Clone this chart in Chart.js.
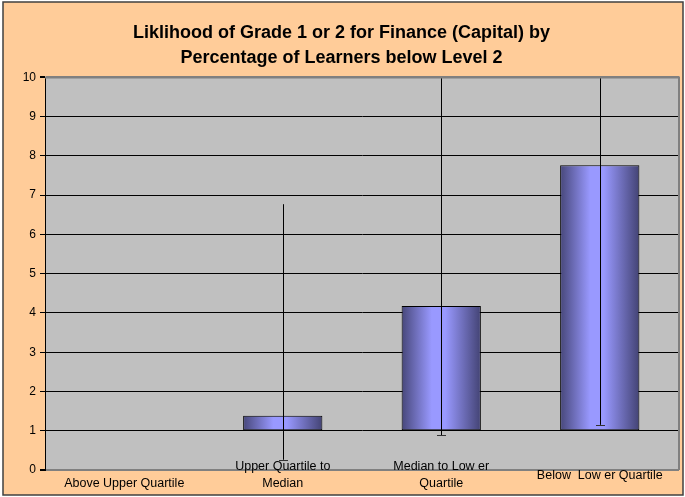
<!DOCTYPE html>
<html>
<head>
<meta charset="utf-8">
<script src="https://cdn.jsdelivr.net/npm/chart.js@4/dist/chart.umd.min.js"></script>
<style>
  html, body { margin: 0; padding: 0; background: #fff; }
  #wrap { width: 685px; height: 497px; position: relative; }
</style>
</head>
<body>
<div id="wrap"><canvas id="barChart" width="685" height="497"></canvas></div>
<script>
// values
var categories = [
    ['', 'Above Upper Quartile'],
    ['Upper Quartile to', 'Median'],
    ['Median to Low er', 'Quartile'],
    ['Below  Low er Quartile']
];
var likelihood = [1, 1.38, 4.18, 7.76];
var errLow = [null, 0.26, 0.89, 1.15];
var errHigh = [null, 6.77, 11.5, 10.8];
var yTicks = [0, 1, 2, 3, 4, 5, 6, 7, 8, 9, 10];

// the x labels sit partly over the plot, so don't clip them to the axis box
Chart.CategoryScale.prototype._computeLabelArea = function() { return undefined; };

var bgPlugin = {
    id: 'bg',
    beforeDraw: function(chart) {
        var c = chart.ctx, a = chart.chartArea;
        c.save();
        c.fillStyle = '#ffffff';
        c.fillRect(0, 0, chart.width, chart.height);
        c.fillStyle = '#FFCC99';
        c.fillRect(3, 2, 680, 493);
        c.strokeStyle = '#404040';
        c.lineWidth = 1.5;
        c.strokeRect(3, 2, 680, 493);
        c.fillStyle = '#C0C0C0';
        c.fillRect(a.left, a.top, a.right - a.left, a.bottom - a.top);
        c.restore();
    },
    afterDraw: function(chart) {
        var c = chart.ctx, a = chart.chartArea;
        c.save();
        c.strokeStyle = '#808080';
        c.lineWidth = 2;
        c.beginPath();
        c.moveTo(a.left, a.top);
        c.lineTo(a.right, a.top);
        c.lineTo(a.right, a.bottom);
        c.stroke();
        c.restore();
    }
};

var errorPlugin = {
    id: 'errbars',
    afterDatasetsDraw: function(chart) {
        var c = chart.ctx, a = chart.chartArea;
        var x = chart.scales.x, y = chart.scales.y;
        c.save();
        c.beginPath();
        c.rect(a.left, a.top, a.right - a.left, a.bottom - a.top);
        c.clip();
        c.strokeStyle = '#000';
        c.lineWidth = 1;
        for (var i = 0; i < categories.length; i++) {
            if (errLow[i] === null) continue;
            var px = Math.round(x.getPixelForValue(i)) + 0.5;
            var lo = y.getPixelForValue(errLow[i]);
            var hi = y.getPixelForValue(errHigh[i]);
            c.beginPath();
            c.moveTo(px, lo);
            c.lineTo(px, hi);
            c.stroke();
            c.strokeStyle = '#333';
            c.beginPath();
            c.moveTo(px - 4.5, Math.round(lo) + 0.5);
            c.lineTo(px + 4.5, Math.round(lo) + 0.5);
            c.stroke();
            c.strokeStyle = '#000';
        }
        c.restore();
    }
};

function barGradient(ctx) {
    var chart = ctx.chart;
    var xs = chart.scales.x;
    if (!xs || !xs.width) return '#9999FF';
    var cx = xs.getPixelForValue(ctx.dataIndex);
    var w = xs.width / categories.length * 0.5;
    var g = chart.ctx.createLinearGradient(cx - w / 2, 0, cx + w / 2, 0);
    g.addColorStop(0, '#47477a');
    g.addColorStop(0.38, '#9999ff');
    g.addColorStop(0.55, '#9999ff');
    g.addColorStop(1, '#434374');
    return g;
}

var CHART = document.getElementById('barChart');
var barChart = new Chart(CHART, {
    type: 'bar',
    data: {
        labels: categories,
        datasets: [{
            label: 'Likelihood',
            data: likelihood,
            base: 1,
            backgroundColor: barGradient,
            borderColor: '#000',
            borderWidth: 1,
            borderSkipped: false,
            barPercentage: 0.5,
            categoryPercentage: 1
        }]
    },
    plugins: [bgPlugin, errorPlugin],
    options: {
        responsive: false,
        animation: false,
        layout: { padding: { left: 4, right: 6, top: 0, bottom: 0 } },
        plugins: {
            legend: { display: false },
            tooltip: { enabled: false },
            title: {
                display: true,
                text: ['Liklihood of Grade 1 or 2 for Finance (Capital) by', 'Percentage of Learners below Level 2'],
                color: '#000',
                font: { family: 'Liberation Sans, Arial, sans-serif', size: 18, weight: 'bold', lineHeight: 1.4 },
                padding: { top: 20, bottom: 7 }
            }
        },
        scales: {
            x: {
                grid: { display: false, drawTicks: false, tickLength: 0 },
                border: { display: false },
                ticks: {
                    color: '#000',
                    crossAlign: 'center',
                    padding: -3,
                    maxRotation: 0,
                    autoSkip: false,
                    font: { family: 'Liberation Sans, Arial, sans-serif', size: 12.5, lineHeight: 1.36 }
                },
                afterFit: function(s) { s.height = 27; }
            },
            y: {
                min: 0,
                max: 10,
                afterBuildTicks: function(s) { s.ticks = yTicks.map(function(v) { return { value: v }; }); },
                grid: {
                    color: function(ctx) { return (ctx.tick && (ctx.tick.value === 0 || ctx.tick.value === 10)) ? '#808080' : '#000'; },
                    lineWidth: function(ctx) { return (ctx.tick && (ctx.tick.value === 0 || ctx.tick.value === 10)) ? 2 : 1; },
                    tickLength: 5,
                    tickColor: '#000'
                },
                border: { color: '#000', width: 1 },
                ticks: {
                    color: '#000',
                    padding: 4,
                    font: { family: 'Liberation Sans, Arial, sans-serif', size: 12 }
                },
                afterFit: function(s) { s.width = 41; }
            }
        }
    }
});
</script>
</body>
</html>
